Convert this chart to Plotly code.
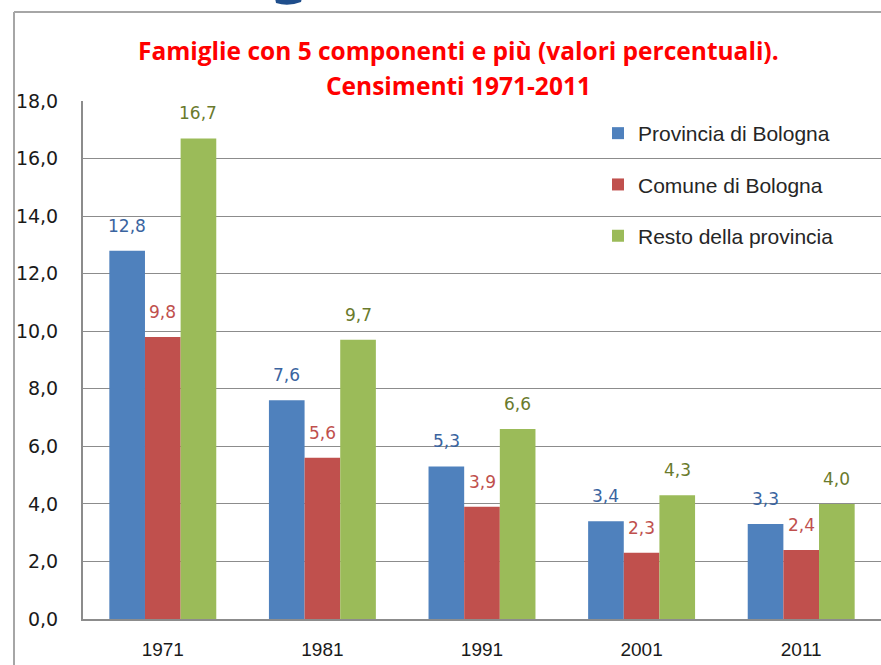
import plotly.graph_objects as go

years = ["1971", "1981", "1991", "2001", "2011"]
provincia = [12.8, 7.6, 5.3, 3.4, 3.3]
comune = [9.8, 5.6, 3.9, 2.3, 2.4]
resto = [16.7, 9.7, 6.6, 4.3, 4.0]
series_names = ["Provincia di Bologna", "Comune di Bologna", "Resto della provincia"]
title_lines = ["Famiglie con 5 componenti e più (valori percentuali).", "Censimenti 1971-2011"]

bar_colors = ["#4F81BD", "#C0504D", "#9BBB59"]
label_colors = ["#3A64A0", "#C0504D", "#6A7A2C"]

W, H = 881, 665
L, R, T, B = 83, 0, 101, 46

fig = go.Figure()
for i, (name, vals) in enumerate(zip(series_names, [provincia, comune, resto])):
    fig.add_trace(go.Bar(
        x=years, y=vals, name=name, marker=dict(color=bar_colors[i], line=dict(width=0)),
        legendgroup=name, hoverinfo="skip",
    ))

bar_px = (W - L - R) / len(years) * (1 - 0.33) / 3
annotations = []
for i, vals in enumerate([provincia, comune, resto]):
    for j, v in enumerate(vals):
        annotations.append(dict(
            x=j, y=v, xref="x", yref="y", text=f"{v:.1f}".replace(".", ","),
            showarrow=False, xshift=(i - 1) * bar_px, yshift=25, yanchor="middle",
            font=dict(family="DejaVu Sans", size=17, color=label_colors[i]),
        ))

pw = W - L - R
ph = H - T - B
def px(x):
    return (x - L) / pw
def py(y):
    return (H - B - y) / ph

for k, (line, ycen) in enumerate(zip(title_lines, [50, 86])):
    annotations.append(dict(
        x=px(458), y=py(ycen), xref="paper", yref="paper", text=f"<b>{line}</b>",
        showarrow=False, xanchor="center", yanchor="middle",
        font=dict(family="Open Sans", size=24.5, color="#FF0000"),
    ))

shapes = [
    dict(type="line", xref="paper", yref="paper", x0=px(14), y0=py(12), x1=px(14), y1=py(700),
         line=dict(color="#A6A6A6", width=2)),
    dict(type="line", xref="paper", yref="paper", x0=px(14), y0=py(12), x1=px(900), y1=py(12),
         line=dict(color="#A6A6A6", width=2)),
    dict(type="path", xref="paper", yref="paper",
         path=f"M {px(275)},{py(-2)} L {px(276)},{py(3)} Q {px(288)},{py(7)} {px(301)},{py(2)} L {px(302)},{py(-2)} Z",
         fillcolor="#1F4E8C", line=dict(width=0)),
]

fig.update_layout(
    width=W, height=H,
    margin=dict(l=L, r=R, t=T, b=B, pad=0),
    paper_bgcolor="white", plot_bgcolor="white",
    barmode="group", bargap=0.33, bargroupgap=0,
    separators=",.",
    showlegend=True,
    legend=dict(x=px(598), y=py(113), xanchor="left", yanchor="top",
                bgcolor="rgba(0,0,0,0)", tracegroupgap=21,
                font=dict(family="Liberation Sans", size=21, color="#262626")),
    annotations=annotations,
    shapes=shapes,
    xaxis=dict(type="category", range=[-0.5, 4.5], showgrid=False, showline=True,
               linecolor="#8C8C8C", linewidth=2, ticks="", ticklabelstandoff=12,
               tickfont=dict(family="Liberation Sans", size=19, color="#1a1a1a")),
    yaxis=dict(range=[0, 18], dtick=2, tickformat=".1f", showgrid=True, gridcolor="#8C8C8C", gridwidth=1,
               showline=True, linecolor="#8C8C8C", linewidth=2, ticks="", ticklabelstandoff=19,
               zeroline=False,
               tickfont=dict(family="DejaVu Sans", size=19, color="#1a1a1a")),
)

fig.write_html("out.html", config={"displayModeBar": False},
               post_script="document.body.style.margin='0';document.body.style.padding='0';")
